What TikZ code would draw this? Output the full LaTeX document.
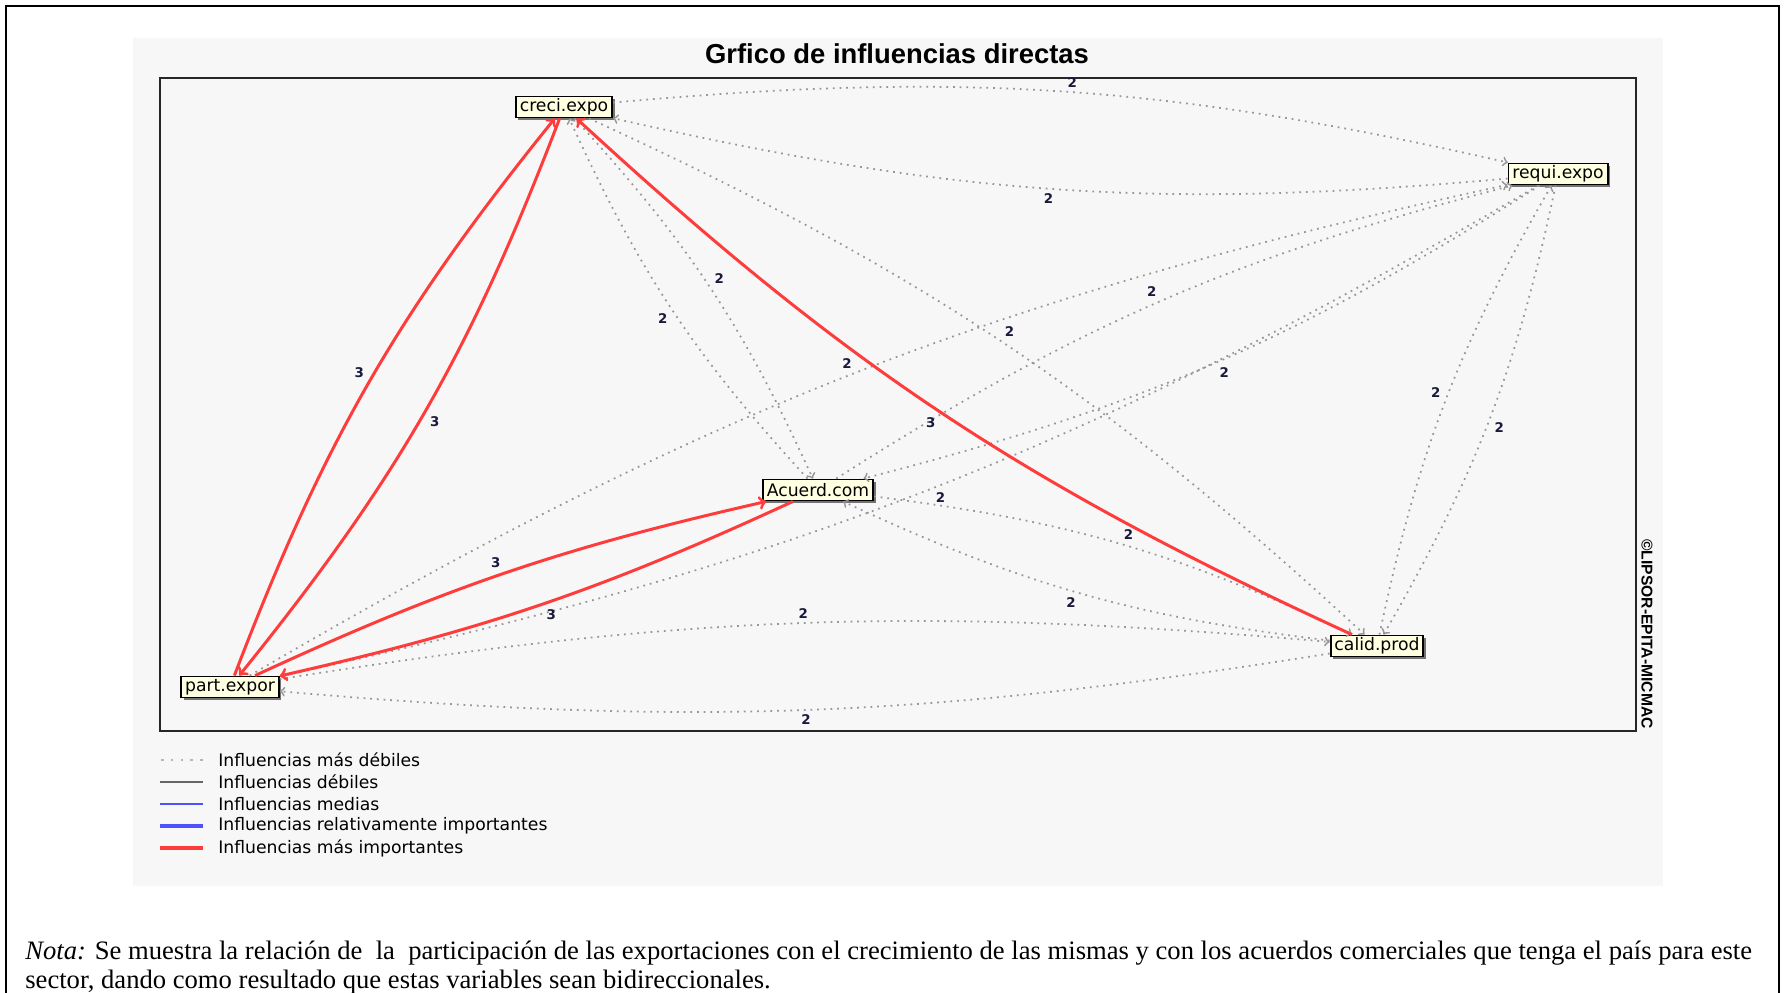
\documentclass[tikz,border=0pt]{standalone}
\usepackage{fontspec}
\setmainfont{Liberation Serif}
\newfontfamily\micfont{DejaVu Sans}
\newfontfamily\titlefont{Liberation Sans}
\usetikzlibrary{positioning,shadows}

\definecolor{panelgray}{RGB}{247,247,247}
\definecolor{boxyellow}{RGB}{255,255,225}
\definecolor{dotgray}{RGB}{150,150,150}
\definecolor{micred}{RGB}{255,60,60}
\definecolor{micblue}{RGB}{80,80,255}
\definecolor{labelnavy}{RGB}{25,25,60}

\begin{document}
\begin{tikzpicture}[
    x=0.02cm, y=-0.02cm,
    var/.style={rectangle, draw=black, line width=1.1pt, fill=boxyellow, inner xsep=2.2pt, inner ysep=0pt, minimum height=0.42cm, font=\micfont\fontsize{9.8}{11}\selectfont, drop shadow={shadow xshift=0.05cm, shadow yshift=-0.05cm, fill=black!55, opacity=1}},
    weak/.style={->, dotgray, line width=1pt, dash pattern=on 1pt off 2.8pt, bend left=9},
    strong/.style={->, micred, line width=1.7pt, bend left=9},
    lbl/.style={auto, inner sep=2pt, text=labelnavy, font=\micfont\bfseries\fontsize{7.6}{8}\selectfont},
    legtext/.style={anchor=west, inner sep=0pt, font=\micfont\fontsize{9.8}{11}\selectfont},
    node distance=0.44cm
]
\useasboundingbox (0,0) rectangle (1785,993);

% Frame and panel
\draw[line width=1.4pt] (6,993) -- (6,6) -- (1779,6) -- (1779,993);
\fill[panelgray] (133,38) rectangle (1663,886);
\node[font=\titlefont\bfseries\fontsize{15.6}{18}\selectfont] (title) at (897,54) {Grfico de influencias directas};
\draw[line width=1.1pt, black!85] (160,78) rectangle (1636,731);
\node[rotate=-90, inner sep=0pt, font=\titlefont\bfseries\fontsize{8.9}{10}\selectfont] (copy) at (1647,634) {©LIPSOR-EPITA-MICMAC};

% Variables
\node[var] (creci) at (564,107) {creci.expo};
\node[var] (requi) at (1558,174) {requi.expo};
\node[var] (acuerd) at (818,490) {Acuerd.com};
\node[var] (part) at (230,687) {part.expor};
\node[var] (calid) at (1377,646) {calid.prod};

% Weakest influences
\draw[weak] (creci) to node[lbl] {2} (requi);
\draw[weak] (requi) to node[lbl] {2} (creci);
\draw[weak] (creci) to node[lbl] {2} (acuerd);
\draw[weak] (acuerd) to node[lbl] {2} (creci);
\draw[weak] (creci) to node[lbl] {2} (calid);
\draw[weak] (acuerd) to node[lbl] {2} (requi);
\draw[weak] (requi) to node[lbl] {2} (acuerd);
\draw[weak] (part) to node[lbl] {2} (requi);
\draw[weak] (requi) to node[lbl] {2} (part);
\draw[weak] (requi) to node[lbl] {2} (calid);
\draw[weak] (calid) to node[lbl] {2} (requi);
\draw[weak] (acuerd) to node[lbl] {2} (calid);
\draw[weak] (calid) to node[lbl] {2} (acuerd);
\draw[weak, bend left=7] (part) to node[lbl] {2} (calid);
\draw[weak, bend left=7] (calid) to node[lbl] {2} (part);

% Most important influences
\draw[strong] (part) to node[lbl] {3} (creci);
\draw[strong] (creci) to node[lbl] {3} (part);
\draw[strong, bend left=6] (part) to node[lbl] {3} (acuerd);
\draw[strong, bend left=6] (acuerd) to node[lbl] {3} (part);
\draw[strong] (calid) to node[lbl] {3} (creci);

% Legend
\node[legtext] (leg1) at (218,760) {Influencias más débiles};
\node[legtext, below=of leg1.west, anchor=west] (leg2) {Influencias débiles};
\node[legtext, below=of leg2.west, anchor=west] (leg3) {Influencias medias};
\node[legtext, below=of leg3.west, anchor=west] (leg4) {Influencias relativamente importantes};
\node[legtext, below=of leg4.west, anchor=west] (leg5) {Influencias más importantes};
\draw[dotgray!70, line width=0.8pt, dash pattern=on 1.6pt off 4pt] ([xshift=-0.3cm]leg1.west) -- ++(-43,0);
\draw[black!60, line width=0.6pt] ([xshift=-0.3cm]leg2.west) -- ++(-43,0);
\draw[micblue, line width=0.8pt] ([xshift=-0.3cm]leg3.west) -- ++(-43,0);
\draw[micblue, line width=2pt] ([xshift=-0.3cm]leg4.west) -- ++(-43,0);
\draw[micred, line width=2pt] ([xshift=-0.3cm]leg5.west) -- ++(-43,0);

% Note
\node[anchor=base west, inner sep=0pt, font=\fontsize{15.15}{17}\selectfont] (nota1) at (25,959) {\textit{Nota:} Se muestra la relación de\ \ la\ \ participación de las exportaciones con el crecimiento de las mismas y con los acuerdos comerciales que tenga el país para este};
\node[anchor=base west, inner sep=0pt, font=\fontsize{15.15}{17}\selectfont] (nota2) at (25,988) {sector, dando como resultado que estas variables sean bidireccionales.};

\end{tikzpicture}
\end{document}
